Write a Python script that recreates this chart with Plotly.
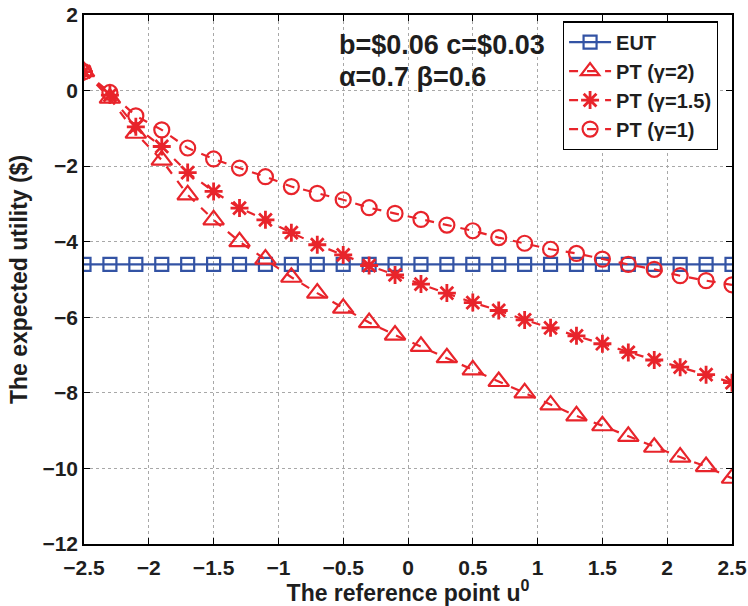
import plotly.graph_objects as go

x_vals = [-2.5, -2.3, -2.1, -1.9, -1.7, -1.5, -1.3, -1.1, -0.9, -0.7, -0.5, -0.3, -0.1,
          0.1, 0.3, 0.5, 0.7, 0.9, 1.1, 1.3, 1.5, 1.7, 1.9, 2.1, 2.3, 2.5]
eut = [-4.6] * 26
pt_g2 = [0.5, -0.2, -1.13, -1.84, -2.76, -3.42, -4.0, -4.46, -4.94, -5.36, -5.76, -6.14, -6.47,
         -6.77, -7.07, -7.39, -7.70, -8.0, -8.32, -8.61, -8.87, -9.15, -9.44, -9.70, -9.95, -10.26]
pt_g15 = [0.5, -0.12, -0.96, -1.48, -2.17, -2.67, -3.11, -3.42, -3.76, -4.08, -4.35, -4.63, -4.88,
          -5.12, -5.36, -5.61, -5.82, -6.07, -6.28, -6.49, -6.70, -6.93, -7.13, -7.32, -7.52, -7.73]
pt_g1 = [0.5, -0.05, -0.67, -1.04, -1.52, -1.81, -2.05, -2.28, -2.54, -2.72, -2.89, -3.10, -3.25,
         -3.41, -3.56, -3.71, -3.89, -4.04, -4.20, -4.31, -4.46, -4.60, -4.73, -4.90, -5.03, -5.14]

x_ticks = [-2.5, -2, -1.5, -1, -0.5, 0, 0.5, 1, 1.5, 2, 2.5]
x_ticklabels = ["\u22122.5", "\u22122", "\u22121.5", "\u22121", "\u22120.5", "0", "0.5", "1", "1.5", "2", "2.5"]
y_ticks = [-12, -10, -8, -6, -4, -2, 0, 2]
y_ticklabels = ["\u221212", "\u221210", "\u22128", "\u22126", "\u22124", "\u22122", "0", "2"]

BLUE = "#3353a4"
RED = "#e8242b"
TXT = "#1e1e1e"
FONT = "Liberation Sans, Arial, sans-serif"

fig = go.Figure()
fig.add_trace(go.Scatter(x=x_vals, y=eut, name="<b>EUT</b>", mode="lines+markers",
                         line=dict(color=BLUE, width=2.2),
                         marker=dict(symbol="square-open", size=13, color=BLUE, line=dict(width=2.2))))
fig.add_trace(go.Scatter(x=x_vals, y=pt_g2, name="<b>PT (\u03b3=2)</b>", mode="lines+markers",
                         line=dict(color=RED, width=2.2, dash="dash"),
                         marker=dict(symbol="triangle-up-open", size=18, color=RED, line=dict(width=2.2))))
fig.add_trace(go.Scatter(x=x_vals, y=pt_g15, name="<b>PT (\u03b3=1.5)</b>", mode="lines+markers",
                         line=dict(color=RED, width=2.2, dash="dash"),
                         marker=dict(symbol="asterisk-open", size=15, color=RED, line=dict(width=2.8, color=RED))))
fig.add_trace(go.Scatter(x=x_vals, y=pt_g1, name="<b>PT (\u03b3=1)</b>", mode="lines+markers",
                         line=dict(color=RED, width=2.2, dash="dash"),
                         marker=dict(symbol="circle-open", size=15, color=RED, line=dict(width=2.2))))

fig.add_annotation(x=-0.55, y=1.21, xref="x", yref="y", text="<b>b=$0.06 c=$0.03</b>",
                   showarrow=False, xanchor="left", yanchor="middle",
                   font=dict(size=27, color=TXT, family=FONT))
fig.add_annotation(x=-0.55, y=0.36, xref="x", yref="y", text="<b>\u03b1=0.7 \u03b2=0.6</b>",
                   showarrow=False, xanchor="left", yanchor="middle",
                   font=dict(size=27, color=TXT, family=FONT))

axis_common = dict(showline=True, linecolor="black", linewidth=1.5, mirror="ticks",
                   ticks="inside", ticklen=6, tickcolor="black", automargin=False,
                   ticklabeloverflow="allow",
                   showgrid=True, gridcolor="#a8a8a8", griddash="dot", gridwidth=1,
                   zeroline=False, tickfont=dict(size=21, color=TXT, family=FONT))

fig.update_xaxes(range=[-2.5, 2.5], tickvals=x_ticks, ticktext=["<b>%s</b>" % t for t in x_ticklabels],
                 ticklabelstandoff=4,
                 title=dict(text="<b>The reference point u<sup>0</sup></b>",
                            font=dict(size=23, color=TXT, family=FONT), standoff=2),
                 **axis_common)
fig.update_yaxes(range=[-12, 2], tickvals=y_ticks, ticktext=["<b>%s</b>" % t for t in y_ticklabels],
                 title=dict(text="<b>The expected utility ($)</b>",
                            font=dict(size=23, color=TXT, family=FONT), standoff=8),
                 **axis_common)

fig.update_layout(width=748, height=606, margin=dict(l=84, r=16, t=15, b=62),
                  plot_bgcolor="white", paper_bgcolor="white",
                  font=dict(family=FONT, color=TXT),
                  legend=dict(x=0.739, y=0.988, xanchor="left", yanchor="top",
                              bgcolor="white", bordercolor="black", borderwidth=1.2,
                              font=dict(size=20, family=FONT, color=TXT),
                              tracegroupgap=0, itemwidth=42))

# remove the browser's default 8px body margin so the figure fills the window exactly
fig.write_html("out.html", config={"displayModeBar": False},
               post_script="document.body.style.margin='0';")
